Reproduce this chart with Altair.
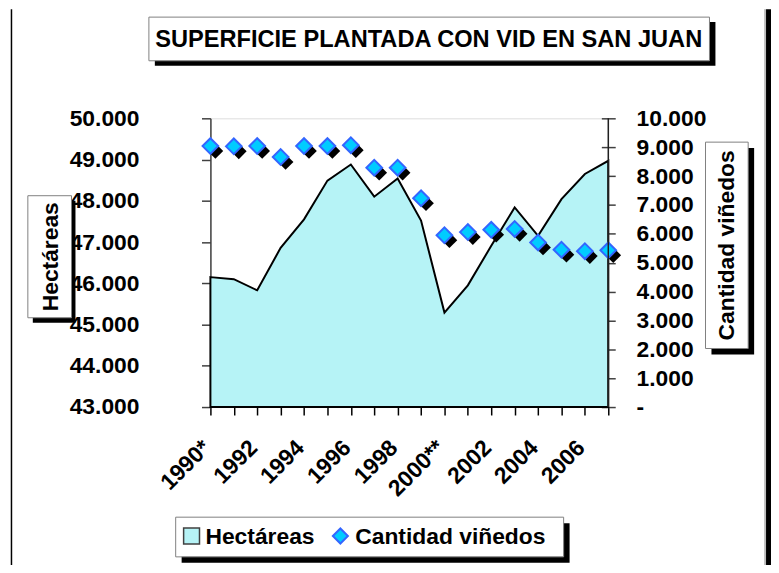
import altair as alt
import pandas as pd

years = list(range(1990, 2008))
hectareas = [46150, 46100, 45830, 46860, 47550, 48490, 48880, 48100, 48540, 47520,
             45290, 45950, 46910, 47840, 47150, 48040, 48650, 48970]
vinedos = [9040, 9030, 9040, 8660, 9040, 9040, 9070, 8290, 8290, 7230,
           5950, 6060, 6140, 6170, 5700, 5450, 5400, 5430]
title_text = "SUPERFICIE PLANTADA CON VID EN SAN JUAN"
left_title = "Hectáreas"
right_title = "Cantidad viñedos"
legend_labels = ["Hectáreas", "Cantidad viñedos"]
left_ticks = list(range(43000, 50001, 1000))
right_ticks = list(range(0, 10001, 1000))

df = pd.DataFrame({"year": years, "hectareas": hectareas, "vinedos": vinedos})

FONT = "Liberation Sans"
FONT_T = "Liberation Sans"
AREA_FILL = "#B6F3F6"
PT_FILL = "#00CCFF"
PT_STROKE = "#3366FF"

lab = dict(labelFont=FONT, labelFontSize=23, labelFontWeight="bold", labelColor="black")

x = alt.X(
    "year:Q",
    scale=alt.Scale(domain=[1990, 2007], nice=False, zero=False),
    axis=alt.Axis(
        values=years,
        labelExpr="datum.value == 1990 ? '1990*' : datum.value == 2000 ? '2000**' : (datum.value % 2 == 0 ? '' + datum.value : '')",
        labelAngle=315, labelAlign="right", labelBaseline="middle",
        tickSize=8, tickColor="black", tickWidth=1.5, domain=False, grid=False,
        title=None, labelPadding=29, labelOffset=-4, labelOverlap=False,
        labelFlush=False, **lab),
)

yl = alt.Y(
    "hectareas:Q",
    scale=alt.Scale(domain=[43000, 50000], nice=False, zero=False),
    axis=alt.Axis(
        values=left_ticks,
        labelExpr="replace(format(datum.value, ','), ',', '.')",
        tickSize=9, tickColor="#404040", tickWidth=1.5,
        domain=True, domainColor="#404040", domainWidth=1.5,
        grid=False, title=None, labelPadding=63, labelFlush=False, **lab),
)

yr_axis = alt.Axis(
    orient="right", values=right_ticks,
    labelExpr="datum.value == 0 ? '-' : replace(format(datum.value, ','), ',', '.')",
    offset=-7, tickSize=14, tickColor="#404040", tickWidth=1.5, domain=False,
    grid=False, title=None, labelPadding=21, labelFlush=False, **lab)
yr_scale = alt.Scale(domain=[0, 10000], nice=False, zero=True)

base = alt.Chart(df)
area = base.mark_area(fill=AREA_FILL, stroke="black", strokeWidth=2, strokeJoin="miter").encode(
    x=x, y=yl, y2=alt.datum(43000))

shadow = base.mark_point(shape="diamond", filled=True, color="black", opacity=1,
                         size=250, xOffset=5, yOffset=5).encode(
    x=x, y=alt.Y("vinedos:Q", scale=yr_scale, axis=yr_axis))
pts = base.mark_point(shape="diamond", filled=True, fill=PT_FILL, stroke=PT_STROKE,
                      strokeWidth=2, opacity=1, size=250).encode(
    x=x, y=alt.Y("vinedos:Q", scale=yr_scale, axis=yr_axis))
right = alt.layer(shadow, pts)

one = alt.Data(values=[{}])


def box(x1, y1, x2, y2, **kw):
    return alt.Chart(one).mark_rect(**kw).encode(
        x=alt.value(x1), x2=alt.value(x2), y=alt.value(y1), y2=alt.value(y2))


def label(txt, xx, yy, size, align="center", angle=0):
    d = pd.DataFrame({"t": [txt]})
    return alt.Chart(d).mark_text(font=FONT_T, fontSize=size, fontWeight="bold",
                                  color="black", align=align, baseline="middle",
                                  angle=angle).encode(
        x=alt.value(xx), y=alt.value(yy), text="t:N")


def vrule(xx, y1, y2, color, w):
    return alt.Chart(one).mark_rule(color=color, strokeWidth=w).encode(
        x=alt.value(xx), y=alt.value(y1), y2=alt.value(y2))


decor = [
    # plot edge on the right
    vrule(401, 0, 291, "#202020", 1.5),
    # outer frame
    vrule(-200.5, -110, 470, "black", 1.5),
    vrule(559, -110, 470, "#808080", 1),
    box(560, -110, 566, 470, fill="black"),
    # title
    box(-56, -97, 509, -53, fill="black"),
    box(-62, -102, 503, -58, fill="white", stroke="#808080", strokeWidth=1),
    label(title_text, 220, -79, 23.8),
    # left axis title
    box(-179, 83, -136, 206, fill="black"),
    box(-184, 78, -140, 201, fill="white", stroke="#808080", strokeWidth=1),
    label(left_title, -161, 139.5, 23, angle=270),
    # right axis title
    box(505, 30, 548, 238, fill="black"),
    box(499, 24, 542, 232, fill="white", stroke="#808080", strokeWidth=1),
    label(right_title, 521, 128, 23, angle=270),
    # legend
    box(-29, 408, 362, 448, fill="black"),
    box(-35, 402, 356, 442, fill="white", stroke="#808080", strokeWidth=1),
    box(-27, 413, -11, 429, fill=AREA_FILL, stroke="#404040", strokeWidth=1.5),
    label(legend_labels[0], -5, 422, 23, align="left"),
    alt.Chart(one).mark_point(shape="diamond", filled=True, fill=PT_FILL, stroke=PT_STROKE,
                              strokeWidth=2, opacity=1, size=230).encode(
        x=alt.value(131), y=alt.value(421)),
    label(legend_labels[1], 146, 422, 23, align="left"),
]

main = alt.layer(area, right).resolve_scale(y="independent")
chart = alt.layer(main, *decor).properties(
    width=401, height=291,
    padding={"left": 204, "top": 109, "right": 164, "bottom": 157},
    autosize=alt.AutoSizeParams(type="none"),
).configure_view(stroke="#808080", strokeWidth=1).configure(background="white")

chart.save("out.html", embed_options={"renderer": "svg", "actions": False})
